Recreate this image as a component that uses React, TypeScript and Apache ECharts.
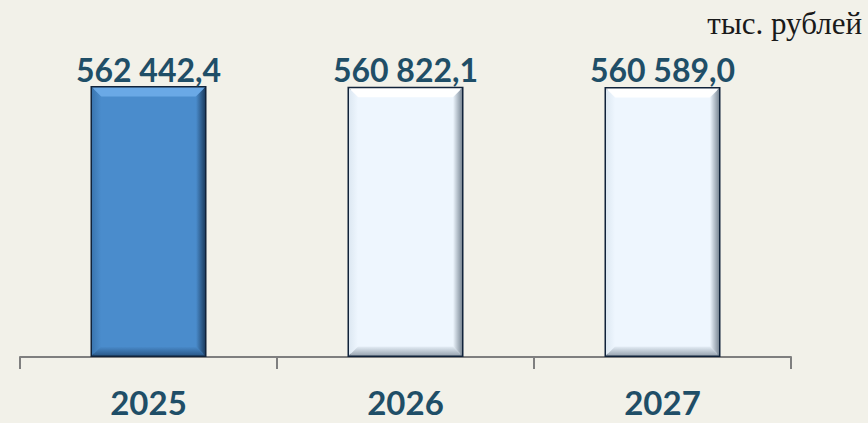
import React, { useEffect, useRef } from "react";
import * as echarts from "echarts";

const categories = ["2025", "2026", "2027"];
const values = [562442.4, 560822.1, 560589.0];
const unitLabel = "тыс. рублей";

const BG = "#f2f1e9";
const TEXT = "#1f4e67";
const BAR_W = 116;

function fmt(v: number): string {
  const [int, dec] = v.toFixed(1).split(".");
  const grouped = int.replace(/\B(?=(\d{3})+(?!\d))/g, " ");
  return grouped + "," + dec;
}

export default function App() {
  const ref = useRef<HTMLDivElement>(null);
  useEffect(() => {
    document.body.style.margin = "0";
    document.body.style.background = BG;
    const chart = echarts.init(ref.current!, null, { renderer: "svg" });
    const bw = 1.5;
    chart.setOption({
      animation: false,
      backgroundColor: BG,
      grid: { left: 20, right: 77, top: 68, bottom: 66 },
      xAxis: {
        type: "category",
        data: categories,
        axisLine: { show: true, lineStyle: { color: "#7f7f7f", width: 2 } },
        axisTick: { show: true, length: 12, lineStyle: { color: "#7f7f7f", width: 2 } },
        axisLabel: {
          margin: 31,
          color: TEXT,
          fontFamily: "Lato",
          fontWeight: "bold",
          fontSize: 33,
          lineHeight: 28,
        },
      },
      yAxis: { type: "value", show: false, min: 0, max: 600000 },
      graphic: [
        {
          type: "text",
          right: 6,
          top: 8,
          style: {
            text: unitLabel,
            fill: "#1a1a1a",
            font: "31px 'Liberation Serif'",
          },
        },
      ],
      series: [
        {
          type: "bar",
          barWidth: BAR_W,
          data: values.map((v, i) => ({
            value: v,
            itemStyle: {
              color: i === 0 ? "#4a8ccc" : "#eef6fe",
              borderColor: "#11233a",
              borderWidth: 3,
            },
          })),
          label: {
            show: true,
            position: "top",
            distance: 1,
            formatter: (p: any) => fmt(p.value),
            color: TEXT,
            fontFamily: "Lato",
            fontWeight: "bold",
            fontSize: 32,
          },
          z: 2,
        },
        {
          type: "custom",
          silent: true,
          z: 3,
          data: values.map((v, i) => [i, v]),
          renderItem: (params: any, api: any) => {
            const i = api.value(0);
            const v = api.value(1);
            const top = api.coord([i, v]);
            const bot = api.coord([i, 0]);
            const x0 = top[0] - BAR_W / 2 + bw;
            const x1 = top[0] + BAR_W / 2 - bw;
            const y0 = top[1] + bw;
            const y1 = bot[1] - bw;
            const d = 9;
            const blue = i === 0;
            const cTop = blue ? "#6aa9e6" : "#ffffff";
            const cLeft = blue ? "#3b76b0" : "#dde8f2";
            const cRightIn = blue ? "#4a8ccc" : "#eef6fe";
            const cRightOut = blue ? "#1e3f63" : "#7d8a97";
            const cBotIn = blue ? "#4a8ccc" : "#e4edf6";
            const cBotOut = blue ? "#2b5a8a" : "#9aa6b2";
            return {
              type: "group",
              children: [
                {
                  type: "polygon",
                  shape: { points: [[x0, y0], [x1, y0], [x1 - d, y0 + d], [x0 + d, y0 + d]] },
                  style: { fill: cTop },
                },
                {
                  type: "polygon",
                  shape: { points: [[x0, y0], [x0 + d, y0 + d], [x0 + d, y1 - d], [x0, y1]] },
                  style: {
                    fill: {
                      type: "linear", x: 0, y: 0, x2: 1, y2: 0,
                      colorStops: [
                        { offset: 0, color: cLeft },
                        { offset: 1, color: cRightIn },
                      ],
                    },
                  },
                },
                {
                  type: "polygon",
                  shape: { points: [[x1, y0], [x1, y1], [x1 - d, y1 - d], [x1 - d, y0 + d]] },
                  style: {
                    fill: {
                      type: "linear", x: 0, y: 0, x2: 1, y2: 0,
                      colorStops: [
                        { offset: 0, color: cRightIn },
                        { offset: 1, color: cRightOut },
                      ],
                    },
                  },
                },
                {
                  type: "polygon",
                  shape: { points: [[x0, y1], [x0 + d, y1 - d], [x1 - d, y1 - d], [x1, y1]] },
                  style: {
                    fill: {
                      type: "linear", x: 0, y: 0, x2: 0, y2: 1,
                      colorStops: [
                        { offset: 0, color: cBotIn },
                        { offset: 1, color: cBotOut },
                      ],
                    },
                  },
                },
              ],
            };
          },
        },
      ],
    });
    return () => chart.dispose();
  }, []);
  return <div ref={ref} style={{ width: 868, height: 423 }} />;
}
